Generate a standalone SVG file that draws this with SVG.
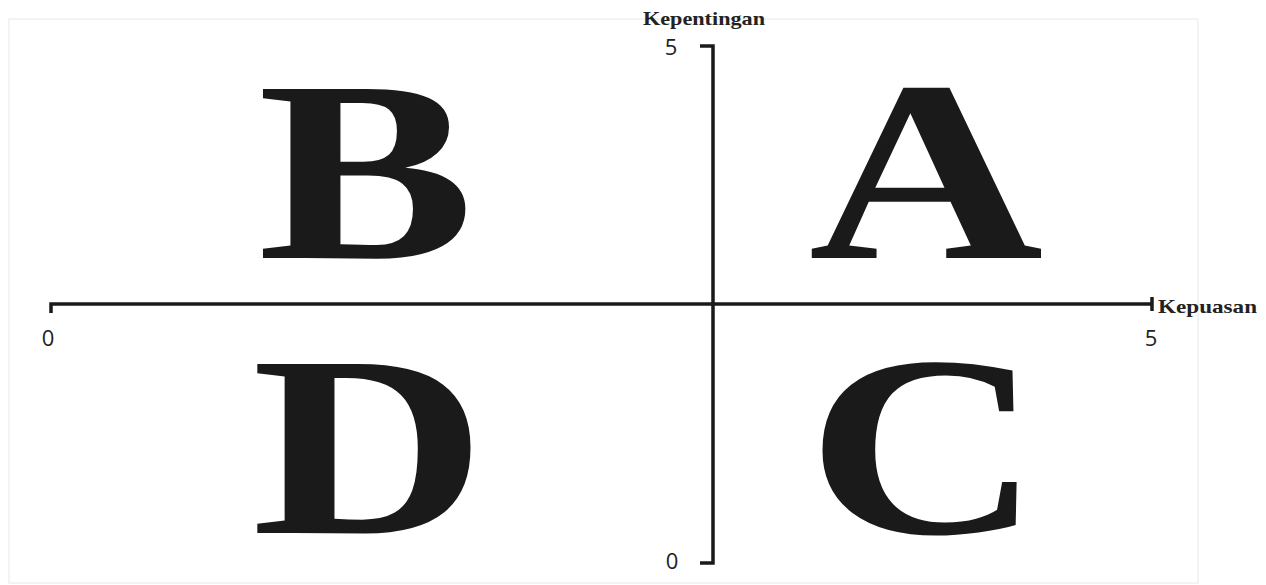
<svg xmlns="http://www.w3.org/2000/svg" width="1266" height="585" viewBox="0 0 1266 585">
<style>
.big{font-family:"Liberation Serif","Times New Roman",serif;font-weight:bold;font-size:258px;fill:#1a1a1a;text-anchor:middle}
.lbl{font-family:"Liberation Serif","Times New Roman",serif;font-weight:bold;font-size:19px;fill:#222}
.num{font-family:"Open Sans",sans-serif;font-size:22px;fill:#222;text-anchor:middle}
.ax{stroke:#1a1a1a;stroke-width:3.5;fill:none;stroke-linecap:butt}
</style>
<rect x="9" y="19" width="1189" height="564" fill="none" stroke="#f0f0f0" stroke-width="1.5"/>
<g id="axes">
<path class="ax" d="M700,46 H713 V563 H700"/>
<path class="ax" d="M51,313 V304 H1152"/>
<path class="ax" d="M1152,297 V311"/>
</g>
<g id="labels">
<text class="lbl" x="704" y="25" text-anchor="middle" textLength="122" lengthAdjust="spacingAndGlyphs">Kepentingan</text>
<text class="lbl" x="1158" y="313" textLength="99" lengthAdjust="spacingAndGlyphs">Kepuasan</text>
<text class="num" x="671" y="55">5</text>
<text class="num" x="672" y="569">0</text>
<text class="num" x="48" y="346">0</text>
<text class="num" x="1151" y="346">5</text>
</g>
<g id="node-B"><text class="big" transform="translate(366,258) scale(1.26,1)">B</text></g>
<g id="node-A"><text class="big" transform="translate(926,258) scale(1.26,1)">A</text></g>
<g id="node-D"><text class="big" transform="translate(369,533) scale(1.26,1)">D</text></g>
<g id="node-C"><text class="big" transform="translate(924,533) scale(1.26,1)">C</text></g>
</svg>
